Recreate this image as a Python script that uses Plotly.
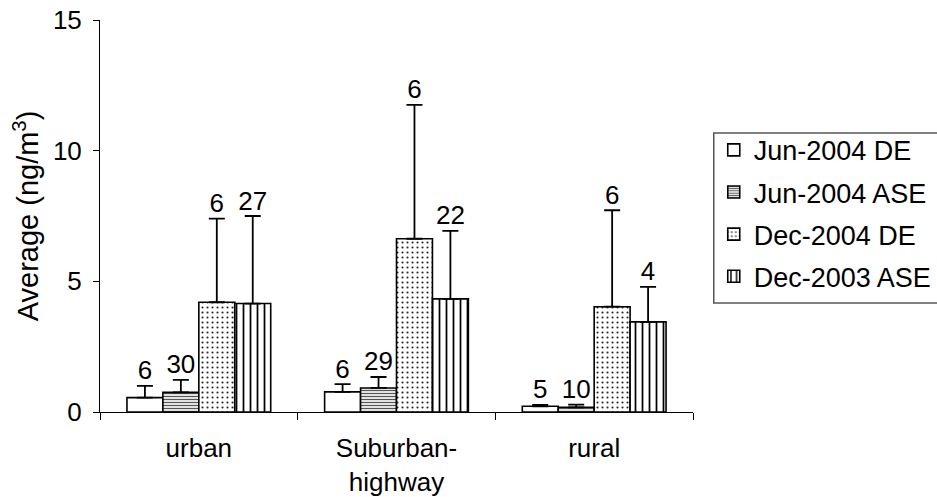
import plotly.graph_objects as go

categories = ["urban", "Suburban-<br>highway", "rural"]
series_names = ["Jun-2004 DE", "Jun-2004 ASE", "Dec-2004 DE", "Dec-2003 ASE"]
jun04_de = [0.55, 0.77, 0.22]
jun04_ase = [0.75, 0.92, 0.18]
dec04_de = [4.2, 6.63, 4.03]
dec03_ase = [4.15, 4.33, 3.45]
# upper error (value + SD)
jun04_de_top = [1.0, 1.07, 0.27]
jun04_ase_top = [1.23, 1.34, 0.28]
dec04_de_top = [7.4, 11.75, 7.72]
dec03_ase_top = [7.5, 6.93, 4.79]
# sample counts shown above bars
jun04_de_n = ["6", "6", "5"]
jun04_ase_n = ["30", "29", "10"]
dec04_de_n = ["6", "6", "6"]
dec03_ase_n = ["27", "22", "4"]

values = [jun04_de, jun04_ase, dec04_de, dec03_ase]
tops = [jun04_de_top, jun04_ase_top, dec04_de_top, dec03_ase_top]
counts = [jun04_de_n, jun04_ase_n, dec04_de_n, dec03_ase_n]
patterns = [
    dict(shape="", bgcolor="white"),
    dict(shape="-", size=3, solidity=0.45, fgcolor="#555555", bgcolor="white", fillmode="replace"),
    dict(shape=".", size=5, solidity=0.14, fgcolor="#222222", bgcolor="white", fillmode="replace"),
    dict(shape="|", size=7, solidity=0.25, fgcolor="black", bgcolor="white", fillmode="replace"),
]

FONT = "Arial, Liberation Sans, sans-serif"
FS = 26
fig = go.Figure()
for i, name in enumerate(series_names):
    plus = [t - v for t, v in zip(tops[i], values[i])]
    fig.add_trace(go.Bar(
        x=categories, y=values[i], name=name,
        offsetgroup=str(i), legendgroup=str(i),
        marker=dict(color="white", pattern=patterns[i],
                    line=dict(color="black", width=1.6)),
        error_y=dict(type="data", symmetric=False, array=plus,
                     arrayminus=[0] * len(plus), color="black",
                     thickness=1.8, width=8),
    ))
for i, name in enumerate(series_names):
    fig.add_trace(go.Scatter(
        x=categories, y=tops[i], text=counts[i], mode="text",
        textposition="top center", offsetgroup=str(i),
        textfont=dict(size=FS, color="black", family=FONT),
        showlegend=False, hoverinfo="skip", cliponaxis=False,
    ))

fig.update_layout(
    width=937, height=497,
    margin=dict(l=100, r=244, t=20, b=85, autoexpand=False),
    paper_bgcolor="white", plot_bgcolor="white",
    barmode="group", bargap=0.2727, bargroupgap=0,
    scattermode="group", scattergap=0.2727,
    font=dict(family=FONT, size=FS, color="black"),
    showlegend=True,
    legend=dict(x=1.035, y=0.73, xanchor="left", yanchor="top",
                traceorder="grouped", tracegroupgap=4,
                font=dict(size=27, family=FONT),
                bgcolor="rgba(0,0,0,0)", borderwidth=0),
    shapes=[dict(type="rect", xref="paper", yref="paper",
                 x0=1.035, x1=1.5, y0=0.278, y1=0.712,
                 line=dict(color="#555555", width=1.5))],
)
fig.update_xaxes(type="category", tickson="boundaries", ticks="outside",
                 ticklen=7, tickcolor="black", showline=True,
                 linecolor="black", linewidth=1, showgrid=False,
                 automargin=False,
                 ticklabelstandoff=13, tickfont=dict(size=FS))
fig.update_yaxes(range=[0, 15], dtick=5, ticks="outside", ticklen=6,
                 tickcolor="black", showline=True, linecolor="black",
                 linewidth=1, showgrid=False, zeroline=False,
                 automargin=False,
                 ticklabelstandoff=6, tickfont=dict(size=FS),
                 title=dict(text="Average (ng/m<sup>3</sup>)",
                            font=dict(size=29), standoff=5))

fig.write_html("out.html")
